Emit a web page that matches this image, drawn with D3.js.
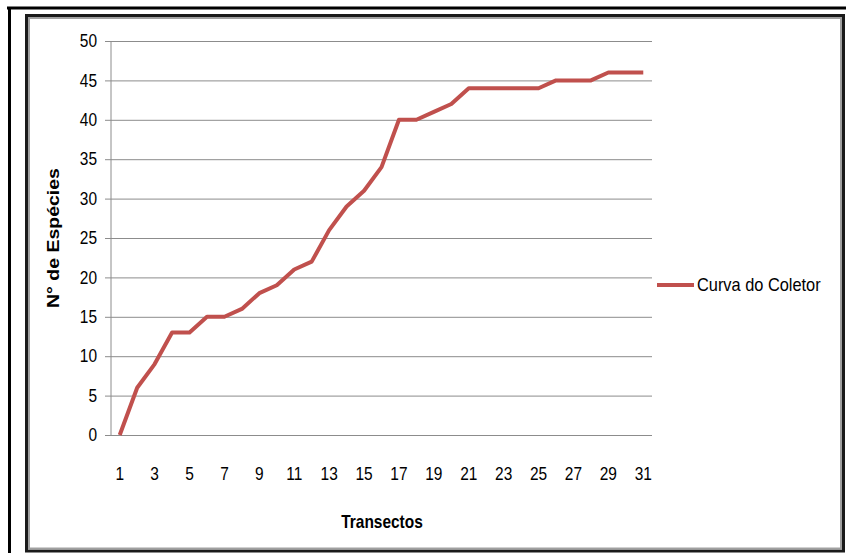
<!DOCTYPE html>
<html>
<head>
<meta charset="utf-8">
<script src="https://cdn.jsdelivr.net/npm/d3@7"></script>
<style>
  html, body { margin: 0; padding: 0; background: #fff; }
  svg { display: block; }
  text { font-family: "Liberation Sans", Arial, sans-serif; fill: #000; }
</style>
</head>
<body>
<svg id="chart" width="846" height="553"></svg>
<script>
// Transect numbers (categories) and accumulated species count per transect
const transectos = d3.range(1, 32);
const especies = [0, 6, 9, 13, 13, 15, 15, 16, 18, 19, 21, 22, 26, 29, 31, 34,
                  40, 40, 41, 42, 44, 44, 44, 44, 44, 45, 45, 45, 46, 46, 46];
const yTicks = [0, 5, 10, 15, 20, 25, 30, 35, 40, 45, 50];
const xTickLabels = transectos.filter(d => d % 2 === 1);
const serieNome = "Curva do Coletor";
const tituloY = "N° de Espécies";
const tituloX = "Transectos";

// narrow lettering: glyphs are compressed horizontally
const SX = 0.86;

const svg = d3.select("#chart");

// Outer frame: black top and left strokes
svg.append("line").attr("x1", 7).attr("x2", 846).attr("y1", 8).attr("y2", 8)
  .attr("stroke", "#000").attr("stroke-width", 3);
svg.append("line").attr("x1", 9.5).attr("x2", 9.5).attr("y1", 7).attr("y2", 553)
  .attr("stroke", "#000").attr("stroke-width", 3);

// Chart area frame: dark stroke with a grey inner edge
svg.append("rect").attr("x", 26.5).attr("y", 15.5).attr("width", 817).attr("height", 535.5)
  .attr("fill", "#fff").attr("stroke", "#1a1a1a").attr("stroke-width", 3);
svg.append("rect").attr("x", 29).attr("y", 18).attr("width", 812).attr("height", 530.5)
  .attr("fill", "none").attr("stroke", "#a0a0a0").attr("stroke-width", 2);

const plot = { left: 111, right: 652, top: 41, bottom: 435 };

const x = d3.scaleBand().domain(transectos).range([plot.left, plot.right]);
const y = d3.scaleLinear().domain([0, 50]).range([plot.bottom, plot.top]);

// Horizontal gridlines with short ticks to the left of the axis
const yPad = 14;
const yAxis = d3.axisLeft(y).tickValues(yTicks).tickSize(-(plot.right - plot.left)).tickSizeOuter(0).tickPadding(yPad);
const gy = svg.append("g").attr("transform", `translate(${plot.left},0)`).call(yAxis);
gy.select(".domain").remove();
gy.selectAll(".tick line")
  .attr("x1", -6)
  .attr("stroke", "#8c8c8c").attr("stroke-width", 1);
gy.selectAll(".tick text")
  .attr("font-size", 18).attr("fill", "#000")
  .attr("x", -yPad / SX)
  .attr("transform", `scale(${SX},1)`)
  .style("font-family", '"Liberation Sans", Arial, sans-serif');

// Vertical axis line
svg.append("line").attr("x1", plot.left).attr("x2", plot.left)
  .attr("y1", plot.top).attr("y2", plot.bottom)
  .attr("stroke", "#8c8c8c").attr("stroke-width", 1);

// Category axis labels (odd transects)
const xAxis = d3.axisBottom(x).tickValues(xTickLabels).tickSize(0).tickPadding(32);
const gx = svg.append("g").attr("transform", `translate(0,${plot.bottom})`).call(xAxis);
gx.select(".domain").remove();
gx.selectAll(".tick text")
  .attr("font-size", 18).attr("fill", "#000")
  .attr("transform", `scale(${SX},1)`)
  .style("font-family", '"Liberation Sans", Arial, sans-serif');

// Collector's curve
const line = d3.line()
  .x((d, i) => x(transectos[i]) + x.bandwidth() / 2)
  .y(d => y(d));
svg.append("path").datum(especies)
  .attr("d", line)
  .attr("fill", "none")
  .attr("stroke", "#C0504D")
  .attr("stroke-width", 4)
  .attr("stroke-linejoin", "round");

// Axis titles
svg.append("text")
  .attr("transform", `translate(59,238) rotate(-90) scale(1,${SX})`)
  .attr("text-anchor", "middle")
  .attr("font-size", 19.5).attr("font-weight", "bold")
  .text(tituloY);
svg.append("text")
  .attr("transform", `translate(382,528) scale(${SX},1)`)
  .attr("text-anchor", "middle")
  .attr("font-size", 18).attr("font-weight", "bold")
  .text(tituloX);

// Legend
svg.append("line").attr("x1", 657).attr("x2", 694).attr("y1", 285).attr("y2", 285)
  .attr("stroke", "#C0504D").attr("stroke-width", 4);
svg.append("text")
  .attr("transform", `translate(697,291) scale(0.91,1)`)
  .attr("font-size", 18)
  .text(serieNome);
</script>
</body>
</html>
